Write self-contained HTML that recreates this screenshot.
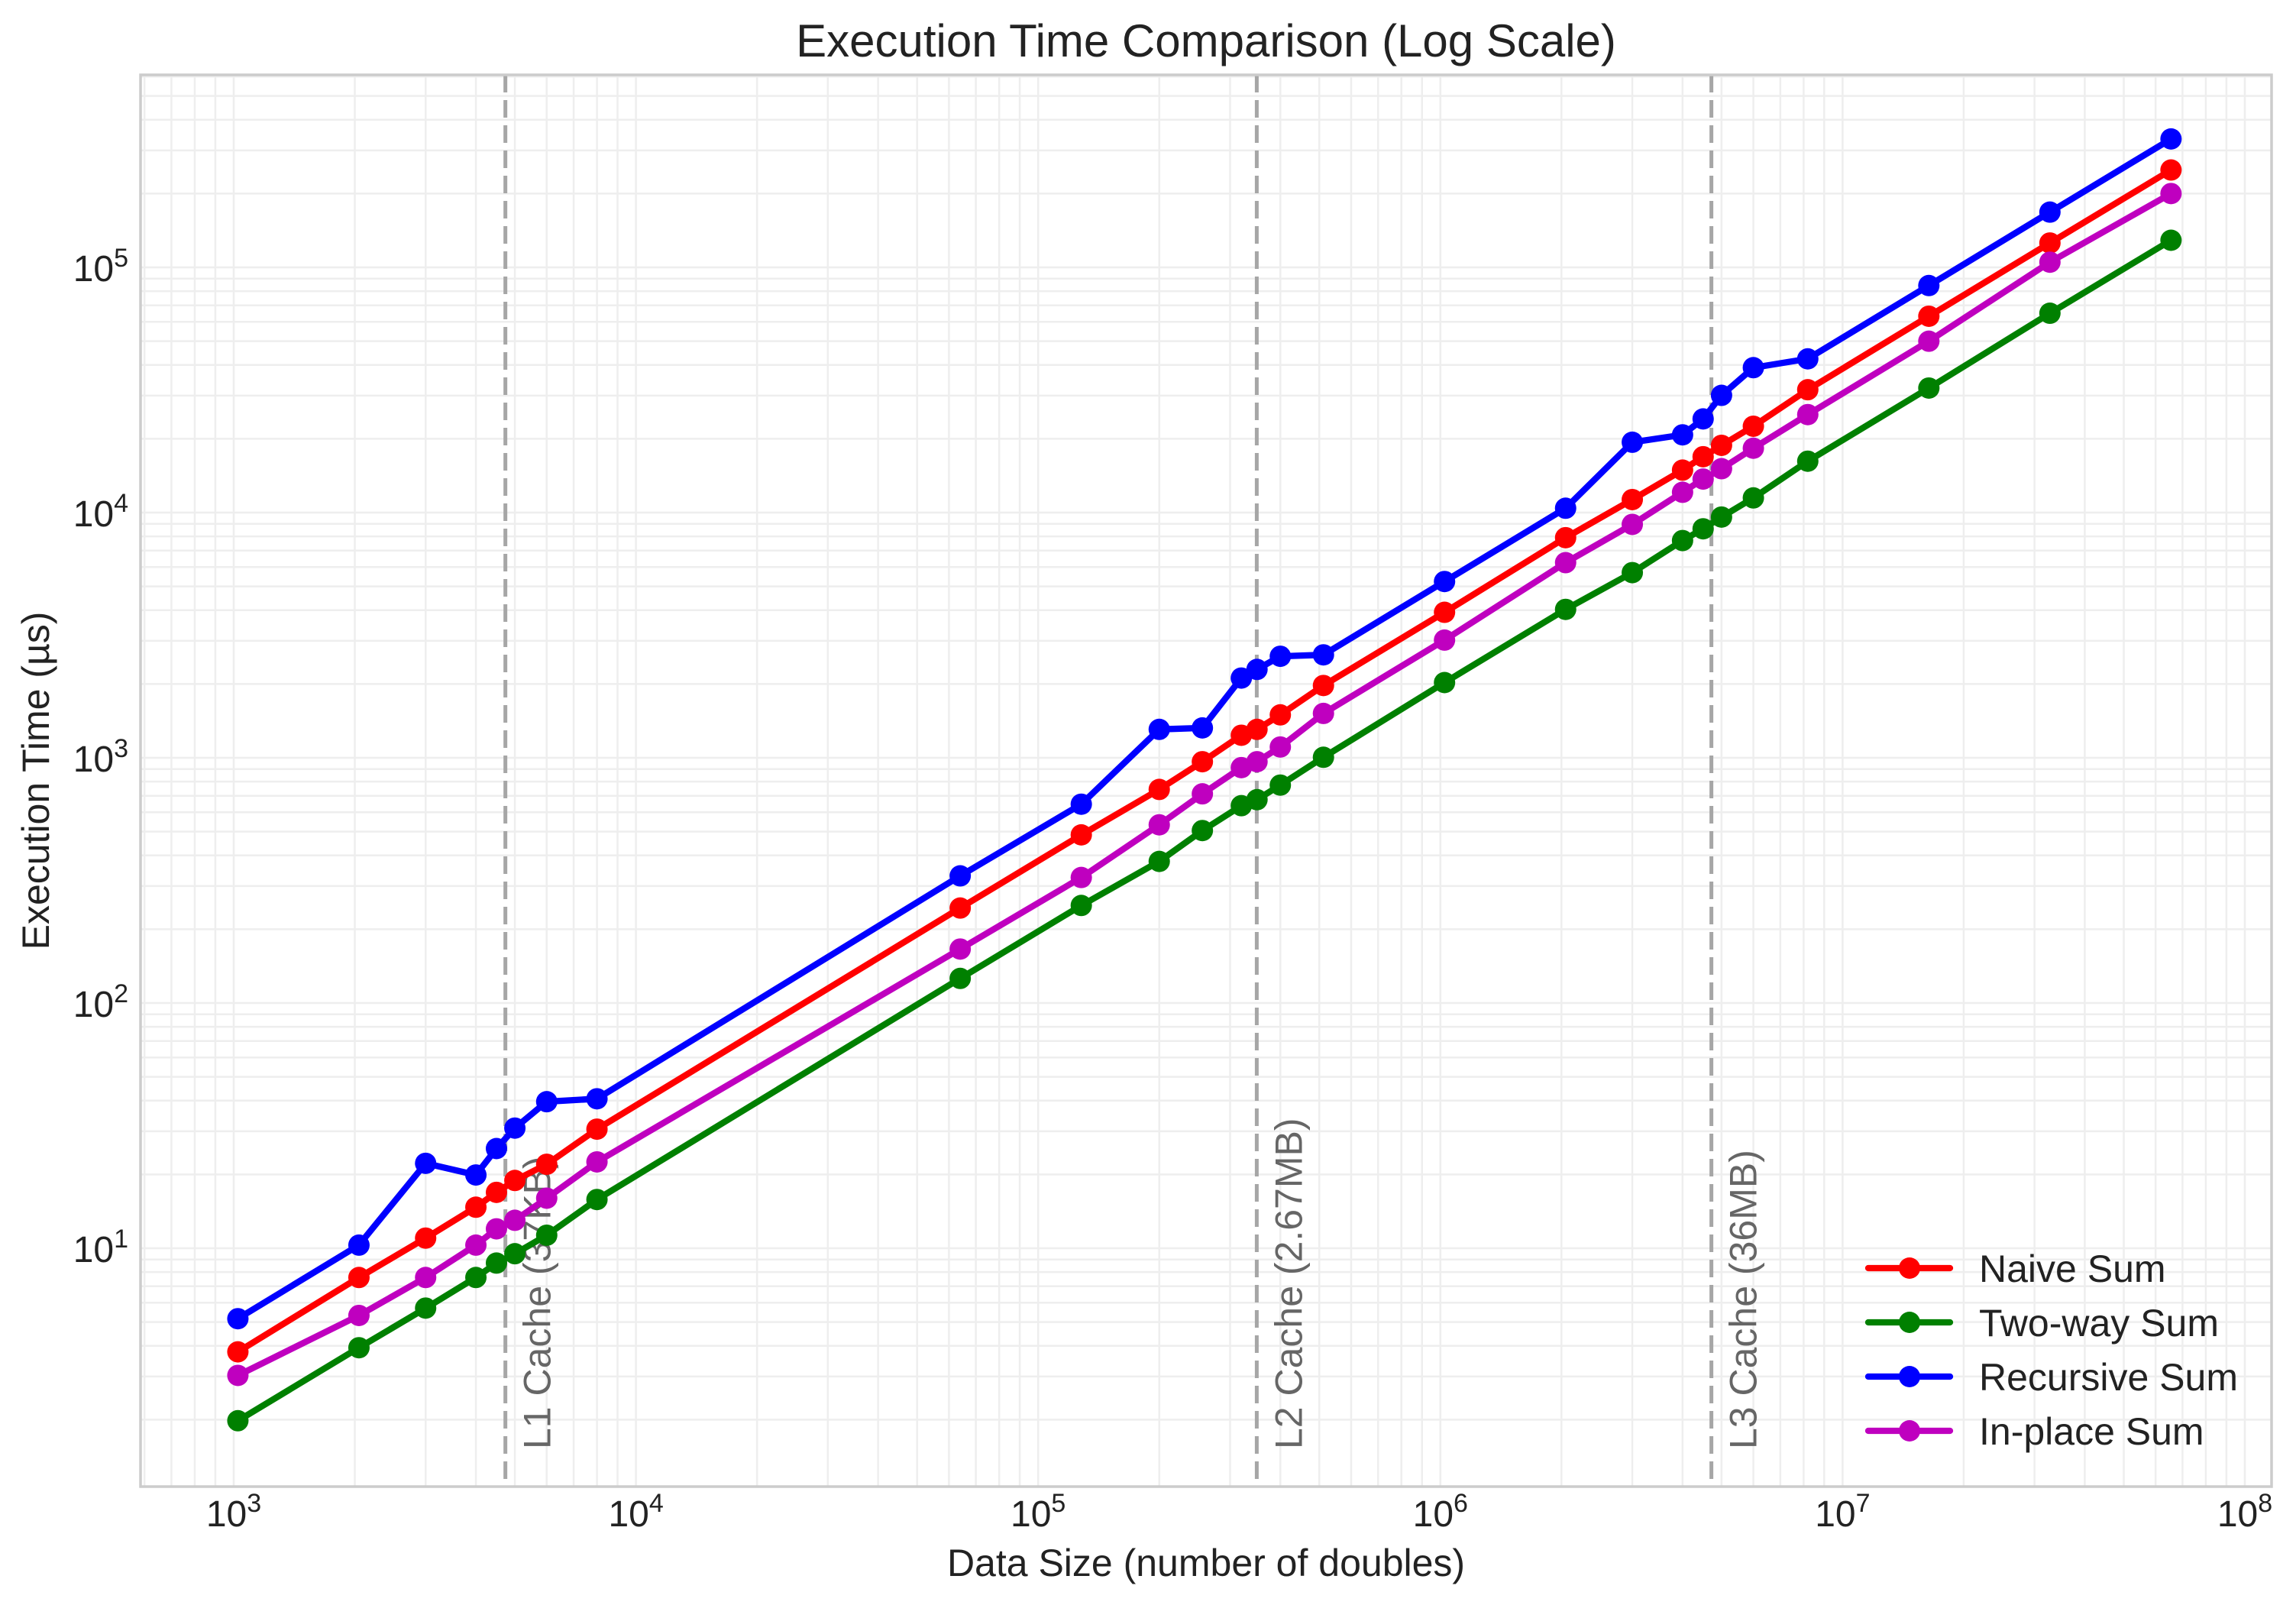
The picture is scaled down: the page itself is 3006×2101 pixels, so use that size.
<!DOCTYPE html>
<html><head><meta charset="utf-8"><style>
html,body{margin:0;padding:0;background:#fff;}
svg{display:block;font-family:"Liberation Sans",Arial,sans-serif;}
</style></head><body>
<svg id="chart" width="3006" height="2101" viewBox="0 0 3006 2101" xmlns="http://www.w3.org/2000/svg">
<rect x="0" y="0" width="3006" height="2101" fill="#fff"/>
<g id="grid"></g>
<g id="cache"></g>
<g id="series"></g>
<rect x="184" y="98" width="2790" height="1848" fill="none" stroke="#cccccc" stroke-width="3.5"/>
<g id="ticks"></g>
<text x="1579" y="74" font-size="60" text-anchor="middle" fill="#222">Execution Time Comparison (Log Scale)</text>
<text x="1579" y="2063" font-size="50" text-anchor="middle" fill="#222">Data Size (number of doubles)</text>
<text transform="translate(64,1022) rotate(-90)" font-size="50" text-anchor="middle" fill="#222">Execution Time (µs)</text>
<g id="legend"></g>
</svg>
<script>
const sizes = [1024,2048,3000,4000,4500,5000,6000,8000,64000,128000,200000,256000,320000,350000,400000,512000,1024000,2048000,3000000,4000000,4500000,5000000,6000000,8192000,16384000,32768000,65536000];
const naive = [3.78,7.6,11.0,14.7,16.9,18.9,22.0,30.6,244,485,743,964,1236,1306,1497,1972,3920,7900,11300,14900,16900,18800,22500,31700,63200,125700,249500];
const twoWay = [1.98,3.93,5.7,7.6,8.7,9.5,11.3,15.8,126,250,378,505,638,675,774,1005,2027,4030,5690,7690,8590,9590,11480,16200,32200,65000,129000];
const recursive = [5.16,10.3,22.2,19.9,25.5,30.9,39.6,40.7,330,647,1306,1324,2115,2293,2594,2630,5235,10420,19360,20750,24100,30070,39000,42360,84300,168000,334000];
const inplace = [3.03,5.32,7.6,10.3,12.0,13.0,16.0,22.5,166,325,533,713,912,964,1107,1517,3020,6250,8950,12100,13700,15100,18300,25100,50000,105000,200000];
const seriesNames = ["Naive Sum","Two-way Sum","Recursive Sum","In-place Sum"];
const seriesColors = ["#ff0000","#008000","#0000ff","#bf00bf"];
const cacheSizes = [4736,349525,4718592];
const cacheLabels = ["L1 Cache (37KB)","L2 Cache (2.67MB)","L3 Cache (36MB)"];
const xTickExps = [3,4,5,6,7,8];
const yTickExps = [1,2,3,4,5];

const NS="http://www.w3.org/2000/svg";
const L=184,R=2974,T=98,B=1946;
function xs(v){return 306+(Math.log10(v)-3)*526.6;}
function ys(v){return 350-(Math.log10(v)-5)*321;}
function mk(tag,attrs,parent){const e=document.createElementNS(NS,tag);for(const k in attrs)e.setAttribute(k,attrs[k]);parent.appendChild(e);return e;}

const grid=document.getElementById('grid');
for(let d=2;d<=8;d++){for(let m=1;m<10;m++){const v=m*Math.pow(10,d);const x=xs(v);if(x<L||x>R)continue;
const g=mk('line',{x1:x,x2:x,y1:T,y2:B,stroke:'#eeeeee','stroke-width':2.5},grid);

}}
for(let d=0;d<=6;d++){for(let m=1;m<10;m++){const v=m*Math.pow(10,d);const y=ys(v);if(y<T||y>B)continue;
const g=mk('line',{x1:L,x2:R,y1:y,y2:y,stroke:'#eeeeee','stroke-width':2.5},grid);

}}

const cache=document.getElementById('cache');
cacheSizes.forEach((c,i)=>{const x=xs(c);
const ln=mk('line',{x1:x,x2:x,y1:T,y2:B,stroke:'#a6a6a6','stroke-width':5,'stroke-dasharray':'23 10'},cache);


const t=mk('text',{transform:`translate(${x+59},1897) rotate(-90)`,'font-size':50,fill:'#666'},cache);
t.textContent=cacheLabels[i];

});

const sg=document.getElementById('series');
[naive,twoWay,recursive,inplace].forEach((vals,si)=>{
const g=mk('g',{},sg);


const pts=vals.map((v,i)=>xs(sizes[i]).toFixed(1)+','+ys(v).toFixed(1)).join(' ');
const pl=mk('polyline',{points:pts,fill:'none',stroke:seriesColors[si],'stroke-width':8.3,'stroke-linejoin':'round','stroke-linecap':'round'},g);


vals.forEach((v,i)=>{const c=mk('circle',{cx:xs(sizes[i]),cy:ys(v),r:14,fill:seriesColors[si]},g);

});});

const tk=document.getElementById('ticks');
xTickExps.forEach(e=>{const x=xs(Math.pow(10,e));
const t=mk('text',{x:x,y:1998,'font-size':48,'text-anchor':'middle',fill:'#222'},tk);


t.innerHTML='10<tspan font-size="34" dy="-19">'+e+'</tspan>';});
yTickExps.forEach(e=>{const y=ys(Math.pow(10,e));
const t=mk('text',{x:168,y:y+18,'font-size':48,'text-anchor':'end',fill:'#222'},tk);


t.innerHTML='10<tspan font-size="34" dy="-19">'+e+'</tspan>';});

const lg=document.getElementById('legend');
seriesNames.forEach((n,i)=>{const y=1660+i*71;
const g=mk('g',{},lg);


mk('line',{x1:2446,x2:2553,y1:y,y2:y,stroke:seriesColors[i],'stroke-width':8.3,'stroke-linecap':'round'},g);
mk('circle',{cx:2500,cy:y,r:14,fill:seriesColors[i]},g);
const t=mk('text',{x:2591,y:y+18,'font-size':50,fill:'#222'},g);
t.textContent=n;});
</script>
</body></html>
